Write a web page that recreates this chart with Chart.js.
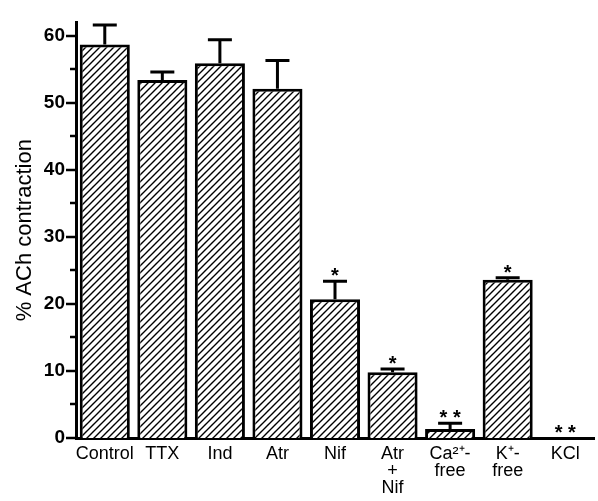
<!DOCTYPE html>
<html>
<head>
<meta charset="utf-8">
<script src="https://cdn.jsdelivr.net/npm/chart.js@4"></script>
<style>
  body { margin: 0; background: #fff; }
  #wrap { width: 598px; height: 501px; }
</style>
</head>
<body>
<div id="wrap"><canvas id="chart" width="598" height="501"></canvas></div>
<script>
const categories = [['Control'], ['TTX'], ['Ind'], ['Atr'], ['Nif'], ['Atr', '+', 'Nif'], ['Ca\u00b2\u207a-', 'free'], ['K\u207a-', 'free'], ['KCl']];
const means = [58.7, 53.4, 55.9, 52.1, 20.7, 9.8, 1.35, 23.6, 0];
const sems = [2.9, 1.2, 3.5, 4.2, 2.7, 0.5, 0.85, 0.3, 0];
const stars = ['', '', '', '', '*', '*', '* *', '*', '* *'];
const yTicks = [0, 5, 10, 15, 20, 25, 30, 35, 40, 45, 50, 55, 60];

const fontFam = '"Liberation Sans", Arial, Helvetica, sans-serif';

// diagonal hatch fill
const makeHatch = () => {
  const c = document.createElement('canvas');
  const s = 7;
  c.width = s; c.height = s;
  const g = c.getContext('2d');
  g.fillStyle = '#fff';
  g.fillRect(0, 0, s, s);
  g.strokeStyle = '#000';
  g.lineWidth = 1.4;
  g.beginPath();
  g.moveTo(-1, s + 1); g.lineTo(s + 1, -1);
  g.moveTo(-1, 1); g.lineTo(1, -1);
  g.moveTo(s - 1, s + 1); g.lineTo(s + 1, s - 1);
  g.stroke();
  return g.createPattern(c, 'repeat');
};

// y tick marks, long at tens, short at fives
const tickMarks = {
  id: 'tickMarks',
  afterDraw(chart) {
    const ctx = chart.ctx;
    const y = chart.scales.y;
    const x0 = chart.chartArea.left;
    ctx.save();
    ctx.strokeStyle = '#000';
    ctx.lineWidth = 2.5;
    yTicks.forEach(v => {
      const py = Math.round(y.getPixelForValue(v));
      const len = v % 10 === 0 ? 10 : 6;
      ctx.beginPath();
      ctx.moveTo(x0 - len, py);
      ctx.lineTo(x0, py);
      ctx.stroke();
    });
    ctx.restore();
  }
};

// upward error bars plus significance stars
const errorBars = {
  id: 'errorBars',
  afterDatasetsDraw(chart) {
    const ctx = chart.ctx;
    const y = chart.scales.y;
    const meta = chart.getDatasetMeta(0);
    ctx.save();
    ctx.strokeStyle = '#000';
    ctx.fillStyle = '#000';
    ctx.lineWidth = 3;
    meta.data.forEach((bar, i) => {
      const top = y.getPixelForValue(means[i] + sems[i]);
      if (sems[i] > 0) {
        ctx.beginPath();
        ctx.moveTo(bar.x, bar.y);
        ctx.lineTo(bar.x, top);
        ctx.moveTo(bar.x - 12, top);
        ctx.lineTo(bar.x + 12, top);
        ctx.stroke();
      }
      if (stars[i]) {
        ctx.font = 'bold 20px ' + fontFam;
        ctx.textAlign = 'center';
        ctx.textBaseline = 'alphabetic';
        ctx.fillText(stars[i], bar.x, top + 1);
      }
    });
    ctx.restore();
  }
};

const ctx = document.getElementById('chart').getContext('2d');
new Chart(ctx, {
  type: 'bar',
  data: {
    labels: categories,
    datasets: [{
      data: means,
      backgroundColor: makeHatch(),
      borderColor: '#000',
      borderWidth: 3,
      barPercentage: 0.87,
      categoryPercentage: 1.0
    }]
  },
  options: {
    responsive: false,
    animation: false,
    layout: { padding: { top: 10, right: 4, left: 0, bottom: 0 } },
    plugins: { legend: { display: false }, tooltip: { enabled: false } },
    scales: {
      x: {
        grid: { display: false, drawTicks: false },
        border: { display: true, color: '#000', width: 3 },
        ticks: {
          color: '#000',
          padding: 7,
          maxRotation: 0,
          autoSkip: false,
          font: { family: fontFam, size: 18, lineHeight: 0.95 }
        },
        afterFit: scale => { scale.height = 63; }
      },
      y: {
        min: 0,
        max: 62,
        grid: { display: false, drawTicks: false },
        border: { display: true, color: '#000', width: 3 },
        afterBuildTicks: scale => { scale.ticks = yTicks.map(v => ({ value: v })); },
        ticks: {
          color: '#000',
          padding: 11,
          callback: v => (v % 10 === 0 ? String(v) : ''),
          font: { family: fontFam, size: 19, weight: 'bold' }
        },
        title: {
          display: true,
          text: '% ACh contraction',
          color: '#000',
          padding: { top: 12, bottom: 0 },
          font: { family: fontFam, size: 22 }
        },
        afterFit: scale => { scale.width = 76; }
      }
    }
  },
  plugins: [tickMarks, errorBars]
});
</script>
</body>
</html>
